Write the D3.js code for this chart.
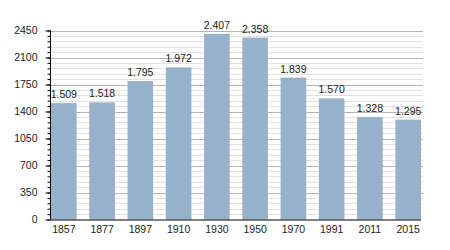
<!DOCTYPE html>
<html>
<head>
<meta charset="utf-8">
<script src="https://cdn.jsdelivr.net/npm/d3@7"></script>
<style>
  body { margin: 0; background: #fff; }
  svg { display: block; font-family: "Liberation Sans", Arial, sans-serif; }
</style>
</head>
<body>
<svg id="chart" width="450" height="250"></svg>
<script>
'use strict';

// data
var years = ['1857', '1877', '1897', '1910', '1930', '1950', '1970', '1991', '2011', '2015'];
var population = [1509, 1518, 1795, 1972, 2407, 2358, 1839, 1570, 1328, 1295];
var yTicks = [0, 350, 700, 1050, 1400, 1750, 2100, 2450];
var yMinor = d3.range(0, 2451, 70);

var svg = d3.select('#chart'),
    plotLeft = 50.5, plotRight = 421, plotTop = 30.5, plotBottom = 219.5;

var x = d3.scaleBand().domain(years).range([plotLeft + 0.5, plotRight]).paddingInner(0.33).paddingOuter(0);
var y = d3.scaleLinear().domain([0, 2450]).range([plotBottom, plotTop]);

// grid
svg.append('g').selectAll('line').data(yMinor.filter(function(d) { return d % 350; }))
  .enter().append('line')
  .attr('x1', plotLeft).attr('x2', plotRight + 2)
  .attr('y1', function(d) { return Math.round(y(d)) + 0.5; })
  .attr('y2', function(d) { return Math.round(y(d)) + 0.5; })
  .attr('stroke', '#e2e2e2');

svg.append('g').selectAll('line').data(yTicks.slice(1))
  .enter().append('line')
  .attr('x1', plotLeft).attr('x2', plotRight + 2)
  .attr('y1', function(d) { return Math.round(y(d)) + 0.5; })
  .attr('y2', function(d) { return Math.round(y(d)) + 0.5; })
  .attr('stroke', '#b4b4b4');

// bars
svg.append('g').selectAll('rect').data(population)
  .enter().append('rect')
  .attr('x', function(d, i) { return x(years[i]); })
  .attr('width', x.bandwidth())
  .attr('y', function(d) { return y(d); })
  .attr('height', function(d) { return plotBottom - y(d); })
  .attr('fill', '#98b1cb');

// value labels
svg.append('g').selectAll('text').data(population)
  .enter().append('text')
  .attr('x', function(d, i) { return x(years[i]) + x.bandwidth() / 2; })
  .attr('y', function(d) { return y(d) - 5; })
  .attr('text-anchor', 'middle')
  .attr('font-size', '10.5px')
  .attr('fill', '#222')
  .text(function(d) { return d3.format(',')(d).replace(',', '.'); });

// y axis
var yAxis = svg.append('g').attr('transform', 'translate(' + plotLeft + ',0)');
yAxis.append('g')
  .call(d3.axisLeft(y).tickValues(yMinor).tickSize(3).tickFormat(''))
  .call(function(g) { g.select('.domain').remove(); });
yAxis.append('g')
  .call(d3.axisLeft(y).tickValues(yTicks).tickSize(5).tickPadding(8).tickFormat(d3.format('d')))
  .call(function(g) {
    g.select('.domain').remove();
    g.selectAll('text').attr('font-size', '10.5px').attr('fill', '#222').attr('font-family', null);
  });
yAxis.append('line').attr('y1', plotTop).attr('y2', plotBottom).attr('stroke', '#000');

// x axis
svg.append('g').attr('transform', 'translate(0,' + plotBottom + ')')
  .call(d3.axisBottom(x).tickSize(0).tickPadding(6))
  .call(function(g) {
    g.select('.domain').attr('d', 'M' + plotLeft + ',0.5H' + plotRight);
    g.selectAll('text').attr('font-size', '10.5px').attr('fill', '#222').attr('font-family', null);
  });
</script>
</body>
</html>
